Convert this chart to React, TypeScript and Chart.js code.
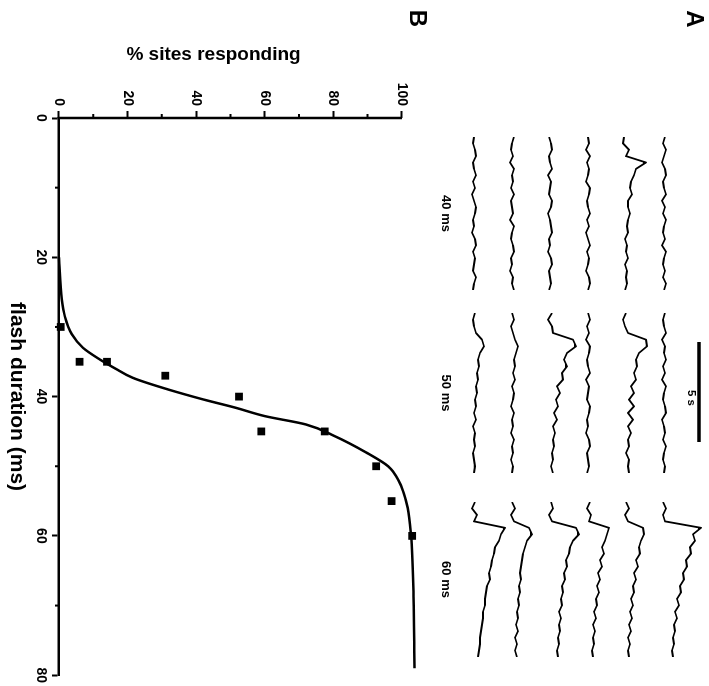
import React, { useEffect, useRef } from 'react';
import { Chart, registerables } from 'chart.js';

Chart.register(...registerables);

const FONT = '"Liberation Sans", Arial, Helvetica, sans-serif';

// ---------------- Panel B data ----------------
const flashDurationMs = [30, 35, 35, 37, 40, 45, 45, 50, 55, 60];
const sitesRespondingPct = [0.5, 6, 14, 31, 52.5, 59, 77.5, 92.5, 97, 103];
const fitDurationMs = [20, 26, 28.5, 31, 33, 34.7, 36, 37.3, 39, 40.4, 41.6, 42.8, 44, 45.7, 48, 50, 52, 56, 60, 68, 79];
const fitPct = [0, 0.8, 1.7, 3.7, 7, 12, 16.5, 21.5, 32, 42, 51.5, 60, 72, 80.5, 89.5, 96, 99, 101.7, 102.7, 103.4, 103.7];
const pctAxisEnd = 100;
const durationMinorTicks = [10, 30, 50, 70];
const pctMinorTicks = [10, 30, 50, 70, 90];

// ---------------- Panel A data ----------------
// optical signal traces (arbitrary units), sampled every 1/3 s over 8 s
const SAMPLE_S = 1 / 3;
const TRACE_LEN_S = 8;
const flashLabels = ['40 ms', '50 ms', '60 ms'];

const traces40ms = [
  [1, -1, 2, 0, -2, 1, 2, -1, 0, 2, -2, 1, -1, 2, 0, -1, 1, -2, 2, 0, -1, 1, -1, 2, 0],
  [-2, -3, 3, 0, 20, 10, 8, 5, 4, 6, 2, 2, 4, 2, 1, 2, -1, 1, 0, 2, -1, 1, 0, 1, -1],
  [0, 1, -2, 2, -1, 1, 0, -2, 2, 1, -1, 0, 2, -1, 1, -2, 0, 2, -1, 1, 0, -2, 1, 2, 0],
  [-1, 1, 2, -1, 0, 2, -2, 1, 0, -1, 2, 1, -2, 0, 1, 2, -1, 0, -2, 1, 2, -1, 0, 1, -1],
  [2, 0, -1, 1, -2, 2, 0, 1, -1, 2, -1, 0, 1, -2, 2, 0, -1, 1, 2, -1, 0, -2, 1, 0, 2],
  [0, -1, 1, 2, -1, 0, 2, -1, 1, -2, 0, 2, 1, -1, 0, -2, 1, 2, -1, 1, 0, -1, 2, 0, -1],
];
const leadIn40ms = { trace: 2, startS: -1.05 };

const traces50ms = [
  [1, -1, 0, 2, -2, 1, 0, 2, -1, 1, -2, 2, 0, -1, 1, 2, -2, 0, 1, -1, 2, 0, -1, 1, 0],
  [0, -3, -1, 2, 20, 21, 13, 10, 11, 8, 10, 5, 8, 3, 8, 2, 7, 2, 5, 2, 3, 0, 3, 2, 3],
  [0, 2, -1, 1, -2, 2, 1, -1, 0, 2, -2, 1, 0, -1, 2, 1, -1, 0, -2, 1, 2, -1, 0, 1, -1],
  [2, -2, 2, 3, 23, 26, 17, 14, 17, 12, 13, 7, 10, 6, 8, 4, 7, 3, 5, 3, 4, 2, 3, 1, 3],
  [0, 2, -1, 1, 3, 6, 4, 2, 3, 1, 3, 0, 2, 1, -1, 2, 0, 1, -1, 2, 0, 1, -1, 1, 0],
  [1, -1, 0, 2, 8, 10, 6, 4, 5, 3, 4, 2, 3, 1, 2, 0, 2, -1, 1, 0, 1, -1, 0, 1, 0],
];
const scaleBarS = [1.45, 6.45];

const traces60ms = [
  [-1, 2, -1, 1, 37, 29, 31, 26, 27, 22, 23, 19, 20, 16, 17, 13, 15, 11, 13, 10, 11, 9, 10, 8, 9],
  [0, 3, -1, 2, 17, 18, 15, 13, 14, 10, 12, 8, 10, 7, 8, 5, 7, 4, 6, 3, 5, 2, 4, 2, 3],
  [2, -1, 3, 1, 21, 19, 17, 14, 16, 12, 14, 10, 12, 9, 11, 8, 9, 6, 8, 5, 7, 5, 6, 4, 5],
  [1, 3, -1, 2, 26, 29, 23, 20, 19, 16, 17, 14, 15, 12, 13, 11, 12, 9, 11, 9, 10, 8, 9, 7, 8],
  [0, 3, -1, 2, 17, 20, 15, 13, 11, 10, 9, 8, 9, 7, 8, 6, 7, 5, 6, 4, 6, 3, 5, 3, 5],
  [1, -2, 3, 0, 31, 27, 25, 21, 20, 18, 17, 15, 16, 13, 12, 11, 11, 9, 9, 8, 7, 6, 6, 5, 4],
];

// ---------------- components ----------------
function TraceGroup(props: any) {
  const { traces, label, left, width, bar, lead } = props;
  const ref = useRef<HTMLCanvasElement>(null);
  useEffect(() => {
    const scales: any = {
      x: {
        type: 'linear', min: 0, max: TRACE_LEN_S, position: 'bottom',
        ticks: { display: false },
        grid: { display: false, drawTicks: false },
        border: { display: false },
        title: {
          display: true, text: label, color: '#000',
          font: { family: FONT, size: 13, weight: 'bold' },
          padding: { top: 6, bottom: 0 },
        },
        afterFit: (s: any) => { s.height = 23; },
      },
      yb: { type: 'linear', display: false, position: 'right', stack: 'rows', stackWeight: 20, weight: 0, min: -1, max: 1 },
    };
    traces.forEach((_: any, i: number) => {
      scales['y' + i] = {
        type: 'linear', display: false, position: 'right', stack: 'rows',
        stackWeight: 38, weight: i + 1, min: -13, max: 25,
      };
    });
    const datasets: any[] = traces.map((vals: number[], i: number) => ({
      data: [
        ...(lead && lead.trace === i ? [{ x: lead.startS, y: vals[0] }] : []),
        ...vals.map((v, k) => ({ x: k * SAMPLE_S, y: v })),
      ],
      yAxisID: 'y' + i,
      borderColor: '#000',
      borderWidth: 1.8,
      borderJoinStyle: 'round',
      pointRadius: 0,
      tension: 0,
      clip: false,
    }));
    if (bar) {
      datasets.push({
        data: bar.map((t: number) => ({ x: t, y: 0 })),
        yAxisID: 'yb', borderColor: '#000', borderWidth: 3.5, pointRadius: 0, clip: false,
      });
    }
    const chart = new Chart(ref.current as HTMLCanvasElement, {
      type: 'line',
      data: { datasets },
      options: {
        animation: false, responsive: false, devicePixelRatio: 1, events: [],
        layout: { padding: 0 },
        plugins: { legend: { display: false }, tooltip: { enabled: false } },
        scales,
      },
    } as any);
    return () => chart.destroy();
  }, []);
  return (
    <canvas ref={ref} width={width} height={271}
      style={{ position: 'absolute', left, top: 0, width, height: 271 }} />
  );
}

function PanelB() {
  const ref = useRef<HTMLCanvasElement>(null);
  useEffect(() => {
    const axisExtras = {
      id: 'axisExtras',
      afterDraw(chart: any) {
        const { ctx } = chart;
        const xs = chart.scales.x;
        const ys = chart.scales.y;
        ctx.save();
        ctx.strokeStyle = '#000';
        // y axis line, from 0 to the last labelled value
        ctx.lineWidth = 2.5;
        ctx.beginPath();
        ctx.moveTo(ys.right, ys.getPixelForValue(0) + 1.25);
        ctx.lineTo(ys.right, ys.getPixelForValue(pctAxisEnd));
        ctx.stroke();
        // minor ticks
        ctx.lineWidth = 2;
        ctx.beginPath();
        durationMinorTicks.forEach((v) => {
          const px = xs.getPixelForValue(v);
          ctx.moveTo(px, xs.top);
          ctx.lineTo(px, xs.top + 4);
        });
        pctMinorTicks.forEach((v) => {
          const py = ys.getPixelForValue(v);
          ctx.moveTo(ys.right, py);
          ctx.lineTo(ys.right - 4, py);
        });
        ctx.stroke();
        ctx.restore();
      },
    };
    const tickFont = { family: FONT, size: 14, weight: 'bold' };
    const chart = new Chart(ref.current as HTMLCanvasElement, {
      type: 'line',
      data: {
        datasets: [
          {
            label: 'sites',
            data: flashDurationMs.map((d, i) => ({ x: d, y: sitesRespondingPct[i] })),
            showLine: false,
            pointStyle: 'rect',
            pointRadius: 5.5,
            pointBackgroundColor: '#000',
            pointBorderWidth: 0,
            borderColor: '#000',
            clip: false,
          },
          {
            label: 'fit',
            data: fitDurationMs.map((d, i) => ({ x: d, y: fitPct[i] })),
            borderColor: '#000',
            borderWidth: 2.5,
            pointRadius: 0,
            cubicInterpolationMode: 'monotone',
            fill: false,
            clip: false,
          },
        ],
      },
      options: {
        animation: false, responsive: false, devicePixelRatio: 1, events: [],
        layout: { padding: { left: 39.6, right: 9, top: 11.2, bottom: 0 } },
        plugins: { legend: { display: false }, tooltip: { enabled: false } },
        scales: {
          x: {
            type: 'linear', min: 0, max: 80, position: 'bottom',
            ticks: { stepSize: 20, color: '#000', font: tickFont, padding: 3 },
            grid: { display: true, drawOnChartArea: false, drawTicks: true, tickLength: 7, tickWidth: 2, tickColor: '#000' },
            border: { display: true, color: '#000', width: 2.5 },
            title: {
              display: true, text: 'flash duration (ms)', color: '#000',
              font: { family: FONT, size: 21, weight: 'bold' }, padding: { top: 4, bottom: 4 },
            },
            afterFit: (s: any) => { s.height = 59; },
          },
          y: {
            type: 'linear', min: 0, max: 104, position: 'left',
            ticks: { stepSize: 20, includeBounds: false, color: '#000', font: tickFont, padding: 5 },
            grid: { display: true, drawOnChartArea: false, drawTicks: true, tickLength: 7, tickWidth: 2, tickColor: '#000' },
            border: { display: false },
            title: {
              display: true, text: '% sites responding         ', color: '#000',
              font: { family: FONT, size: 19, weight: 'bold' }, padding: { top: 4, bottom: 4 },
            },
            afterFit: (s: any) => { s.width = 78.4; },
          },
        },
      },
      plugins: [axisExtras],
    } as any);
    return () => chart.destroy();
  }, []);
  return (
    <canvas ref={ref} width={686} height={429}
      style={{ position: 'absolute', left: 0, top: 280, width: 686, height: 429 }} />
  );
}

function Label(props: any) {
  const { u, v, size, children } = props;
  return (
    <div style={{
      position: 'absolute', left: u - 40, top: v - 20, width: 80, height: 40,
      display: 'flex', alignItems: 'center', justifyContent: 'center',
      fontFamily: FONT, fontWeight: 'bold', fontSize: size, lineHeight: 1, color: '#000',
    }}>{children}</div>
  );
}

export default function App() {
  return (
    <div style={{
      position: 'fixed', left: 0, top: 0, width: 686, height: 709,
      transformOrigin: '0 0', transform: 'translate(709px, 0) rotate(90deg)',
      background: '#fff', overflow: 'hidden',
    }}>
      <Label u={19} v={14} size={24}>A</Label>
      <TraceGroup traces={traces40ms} label={flashLabels[0]} left={137} width={153} lead={leadIn40ms} />
      <TraceGroup traces={traces50ms} label={flashLabels[1]} left={313} width={160} bar={scaleBarS} />
      <TraceGroup traces={traces60ms} label={flashLabels[2]} left={502} width={155} />
      <Label u={398} v={18} size={11.5}>5 s</Label>
      <Label u={18.5} v={291} size={24}>B</Label>
      <PanelB />
    </div>
  );
}
